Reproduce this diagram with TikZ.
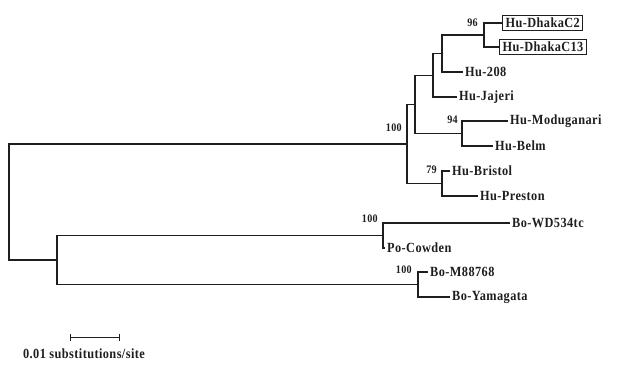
\documentclass[tikz,border=0pt]{standalone}
\usepackage{fontspec}
\setmainfont{Liberation Serif}[LetterSpace=3, FakeStretch=0.88]
\usepackage{tikz}
\usetikzlibrary{positioning, arrows.meta}
\definecolor{treeink}{RGB}{30, 30, 30}
\tikzset{
  branch/.style={
    draw=treeink,
    line width=1.2pt
  },
  taxon/.style={
    anchor=west,
    inner xsep=2pt,
    inner ysep=1pt,
    font=\fontsize{14}{16}\selectfont\bfseries,
    text=treeink
  },
  boxed taxon/.style={
    taxon,
    draw=treeink,
    line width=1.1pt,
    inner xsep=3pt,
    inner ysep=2.5pt
  },
  support/.style={
    anchor=east,
    inner sep=1pt,
    font=\fontsize{11.5}{13}\selectfont\bfseries,
    text=treeink
  }
}
\begin{document}
\begin{tikzpicture}[x=1pt, y=-1pt]
          \useasboundingbox (0,0) rectangle (630,365);

          % internal nodes
          \coordinate (root) at (9, 202);
          \coordinate (hu) at (407, 144);
          \coordinate (hua) at (415, 104.4);
          \coordinate (hub) at (433, 75.2);
          \coordinate (huc) at (442, 53.5);
          \coordinate (dhaka) at (484, 35);
          \coordinate (modu) at (462, 133.5);
          \coordinate (bris) at (442, 183.5);
          \coordinate (other) at (57, 260);
          \coordinate (wd) at (383, 235.5);
          \coordinate (bo) at (418, 284.5);

          % tips
          \node[boxed taxon] (c2) at (502, 23) {Hu-DhakaC2};
          \node[boxed taxon] (c13) at (499, 47) {Hu-DhakaC13};
          \node[taxon] (h208) at (463, 72) {Hu-208};
          \node[taxon] (jajeri) at (457, 97) {Hu-Jajeri};
          \node[taxon] (moduganari) at (508, 121) {Hu-Moduganari};
          \node[taxon] (belm) at (493, 146) {Hu-Belm};
          \node[taxon] (bristol) at (450, 171) {Hu-Bristol};
          \node[taxon] (preston) at (478, 196) {Hu-Preston};
          \node[taxon] (wd534) at (510, 223) {Bo-WD534tc};
          \node[taxon] (cowden) at (385, 248) {Po-Cowden};
          \node[taxon] (m88768) at (428, 272) {Bo-M88768};
          \node[taxon] (yamagata) at (450, 297) {Bo-Yamagata};

          \path[branch] (root) |- (hu)
                (root) |- (other)
                (hu) |- (hua)
                (hu) |- (bris)
                (hua) |- (hub)
                (hua) |- (modu)
                (hub) |- (huc)
                (hub) |- (jajeri.west)
                (huc) |- (dhaka)
                (huc) |- (h208.west)
                (dhaka) |- (c2.west)
                (dhaka) |- (c13.west)
                (modu) |- (moduganari.west)
                (modu) |- (belm.west)
                (bris) |- (bristol.west)
                (bris) |- (preston.west)
                (other) |- (wd)
                (other) |- (bo)
                (wd) |- (wd534.west)
                (wd) |- (cowden.west)
                (bo) |- (m88768.west)
                (bo) |- (yamagata.west);

          % bootstrap values
          \node[support] at (479, 23) {96};
          \node[support] at (459, 120) {94};
          \node[support] at (438, 170) {79};
          \node[support] at (403, 128) {100};
          \node[support] at (379, 219) {100};
          \node[support] at (413, 270) {100};

          % scale bar
          \coordinate (barl) at (70, 337);
          \coordinate (barr) at (120, 337);
          \draw[branch, line width=1pt, {Bar[width=7pt]}-{Bar[width=7pt]}] (barl) -- (barr);
          \node[taxon, anchor=center] (barlabel) at (84, 354) {0.01 substitutions/site};
        \end{tikzpicture}
\end{document}
